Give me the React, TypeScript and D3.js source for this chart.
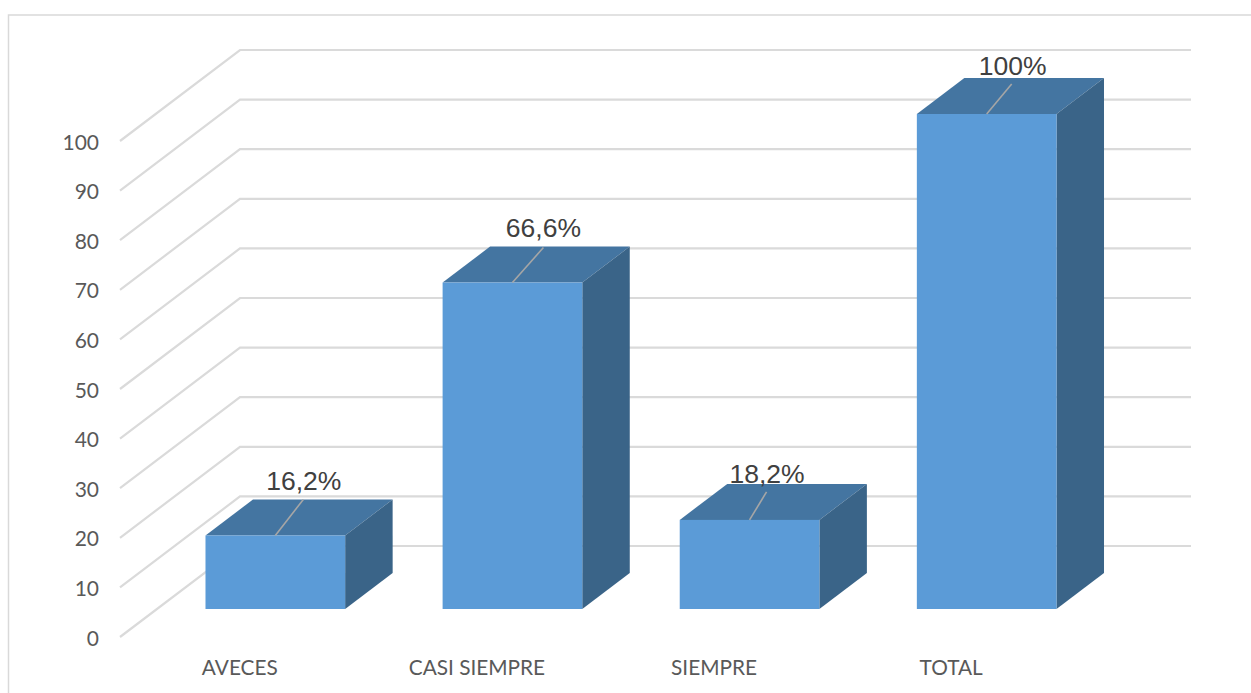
import React from "react";
import * as d3 from "d3";

const categories = ["AVECES", "CASI SIEMPRE", "SIEMPRE", "TOTAL"];
const barValues = [14.85, 65.95, 18, 100];
const dataLabels = ["16,2%", "66,6%", "18,2%", "100%"];
const yTicks = [0, 10, 20, 30, 40, 50, 60, 70, 80, 90, 100];

const W = 1251, H = 693;
const FONT = "Lato, 'Noto Sans', sans-serif";
const wallDX = 120, wallDY = 91;
const barDX = 47.5, barDY = 36;
const frontX0 = 120, backXEnd = 1191;
const floorFront = 609;

const y = d3.scaleLinear().domain([0, 100]).range([637, 141]);
const barY = d3.scaleLinear().domain([0, 100]).range([floorFront, 114]);
const x = d3.scaleBand<string>().domain(categories).range([157, 1105]).paddingInner(0.411).paddingOuter(0.2045);
const line = d3.line();

// leader end and label centre relative to the top-front centre of each bar
const leaderEnd = [[28, -36], [31, -35], [17, -28], [25, -30]];
const labelPos = [[28.5, -55.5], [31, -55], [17.5, -46.5], [26, -49]];

export default function App() {
  return (
    <svg width={W} height={H} viewBox={`0 0 ${W} ${H}`} style={{ position: "absolute", left: 0, top: 0, display: "block", background: "#fff" }}>
      <path d={line([[8.5, H], [8.5, 15], [W, 15]]) ?? ""} fill="none" stroke="#D9D9D9" strokeWidth={1.5} />
      {yTicks.map((t) => (
        <g key={t}>
          <path
            d={line([[frontX0, y(t)], [frontX0 + wallDX, y(t) - wallDY], [backXEnd, y(t) - wallDY]]) ?? ""}
            fill="none" stroke="#DADADA" strokeWidth={2.2}
          />
          <text x={99} y={y(t) + 1} dy="0.36em" textAnchor="end" fontFamily={FONT} fontSize={21} fill="#595959">{t}</text>
        </g>
      ))}
      {categories.map((c, i) => {
        const x0 = x(c) ?? 0;
        const x1 = x0 + x.bandwidth();
        const top = barY(barValues[i]);
        const cx = (x0 + x1) / 2;
        return (
          <g key={c}>
            <path d={`M${x0},${top}L${x0 + barDX},${top - barDY}L${x1 + barDX},${top - barDY}L${x1},${top}Z`} fill="#4475A1" />
            <path d={`M${x1},${top}L${x1 + barDX},${top - barDY}L${x1 + barDX},${floorFront - barDY}L${x1},${floorFront}Z`} fill="#3A6488" />
            <rect x={x0} y={top} width={x.bandwidth()} height={floorFront - top} fill="#5B9BD7" />
            <line x1={cx} y1={top} x2={cx + leaderEnd[i][0]} y2={top + leaderEnd[i][1]} stroke="#A6A6A6" strokeWidth={1.6} />
            <text x={cx + labelPos[i][0]} y={top + labelPos[i][1]} dy="0.36em" textAnchor="middle" fontFamily="'Liberation Sans', Arial, sans-serif" fontSize={26.5} fill="#404040">{dataLabels[i]}</text>
            <text x={cx - 35.5} y={668} dy="0.36em" textAnchor="middle" fontFamily={FONT} fontSize={20.8} fill="#595959">{c}</text>
          </g>
        );
      })}
    </svg>
  );
}
